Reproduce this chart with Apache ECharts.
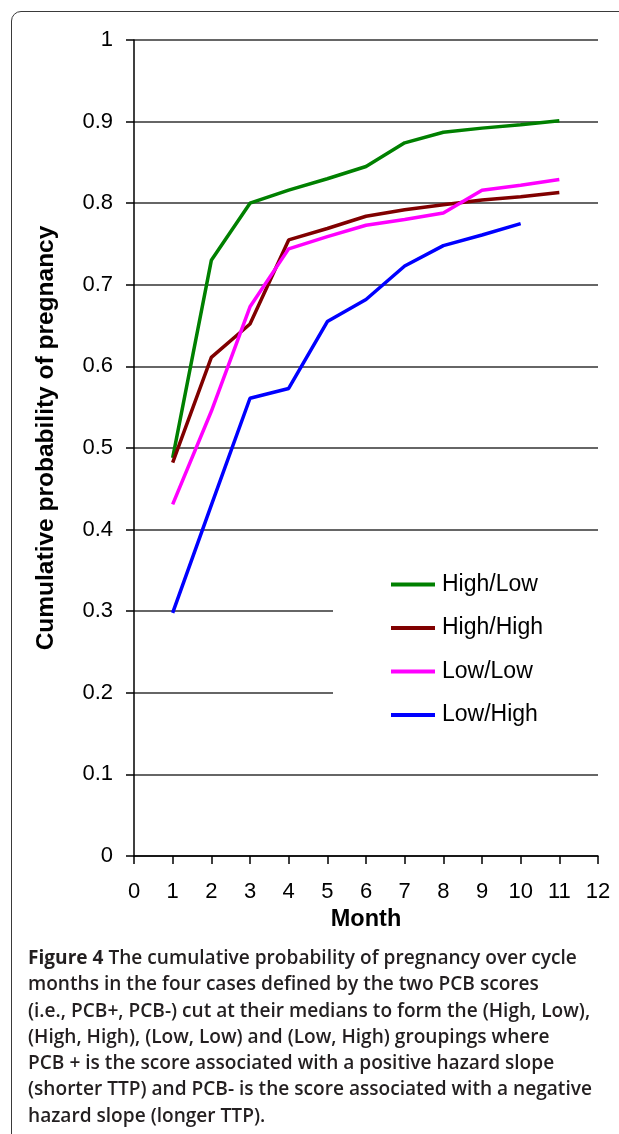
<!DOCTYPE html>
<html>
<head>
<meta charset="utf-8">
<script src="https://cdn.jsdelivr.net/npm/echarts@6/dist/echarts.min.js"></script>
<style>
html,body{margin:0;padding:0;background:#fff;width:619px;height:1134px;overflow:hidden;}
#frame{position:absolute;left:11px;top:11px;width:700px;height:1200px;border:1.5px solid #3a3a3a;border-radius:10px 0 0 0;box-sizing:border-box;}
#chart{position:absolute;left:0;top:0;width:619px;height:1134px;}
#cap{position:absolute;left:28px;top:944px;font-family:"Open Sans",sans-serif;font-size:19.1px;line-height:26.3px;color:#231f20;font-weight:600;white-space:nowrap;}
#cap b{font-weight:700;}
</style>
</head>
<body>
<div id="frame"></div>
<div id="chart"></div>
<div id="cap"><b>Figure 4</b> The cumulative probability of pregnancy over cycle<br>months in the four cases defined by the two PCB scores<br>(i.e., PCB+, PCB-) cut at their medians to form the (High, Low),<br>(High, High), (Low, Low) and (Low, High) groupings where<br>PCB + is the score associated with a positive hazard slope<br>(shorter TTP) and PCB- is the score associated with a negative<br>hazard slope (longer TTP).</div>
<script>
const months = [1,2,3,4,5,6,7,8,9,10,11];
const seriesNames = ['High/Low','High/High','Low/Low','Low/High'];
const highLow  = [0.488,0.730,0.800,0.816,0.830,0.845,0.874,0.887,0.892,0.896,0.901];
const highHigh = [0.482,0.611,0.652,0.755,0.769,0.784,0.792,0.798,0.804,0.808,0.813];
const lowLow   = [0.431,0.545,0.673,0.744,0.759,0.773,0.780,0.788,0.816,0.822,0.829];
const lowHigh  = [0.298,0.430,0.561,0.573,0.655,0.682,0.723,0.748,0.761,0.775];
const colors = ['#008000','#800000','#ff00ff','#0000ff'];
const allValues = [highLow, highHigh, lowLow, lowHigh];

const chart = echarts.init(document.getElementById('chart'), null, {renderer:'canvas'});
const font = 'Liberation Sans, Arial, sans-serif';
chart.setOption({
  animation:false,
  backgroundColor:'transparent',
  grid:{left:134,right:21,top:40,bottom:278,containLabel:false},
  xAxis:{
    type:'value',min:0,max:12,interval:1,
    name:'Month',nameLocation:'middle',nameGap:50,
    nameTextStyle:{fontFamily:font,fontSize:23.5,fontWeight:'bold',color:'#000'},
    axisLine:{lineStyle:{color:'#000',width:1.5}},
    axisTick:{show:true,length:8,lineStyle:{color:'#000',width:1.5}},
    axisLabel:{fontFamily:font,fontSize:22,color:'#000',margin:25},
    splitLine:{show:false}
  },
  yAxis:{
    type:'value',min:0,max:1,interval:0.1,
    name:'Cumulative probability of pregnancy',nameLocation:'middle',nameGap:75,
    nameTextStyle:{fontFamily:font,fontSize:24.5,fontWeight:'bold',color:'#000',padding:[0,0,0,20]},
    axisLine:{show:true,lineStyle:{color:'#000',width:1.5}},
    axisTick:{show:true,length:8,lineStyle:{color:'#000',width:1.5}},
    axisLabel:{fontFamily:font,fontSize:22,color:'#000',margin:21,
      formatter:v=>String(Math.round(v*10)/10)},
    splitLine:{show:true,lineStyle:{color:'#333',width:1.5}}
  },
  legend:{
    orient:'vertical',left:333,top:546,
    padding:[27,60,28,58],
    backgroundColor:'#fff',
    icon:'rect',itemWidth:44,itemHeight:4,itemGap:20.5,
    textStyle:{fontFamily:font,fontSize:23,color:'#000',lineHeight:22,padding:[0,0,0,2]},
    data:seriesNames
  },
  series: seriesNames.map((n,i)=>({
    name:n,type:'line',
    data: allValues[i].map((v,j)=>[months[j],v]),
    showSymbol:false,symbol:'none',
    color:colors[i],
    lineStyle:{color:colors[i],width:3.5},
    z:3
  }))
});
</script>
</body>
</html>
